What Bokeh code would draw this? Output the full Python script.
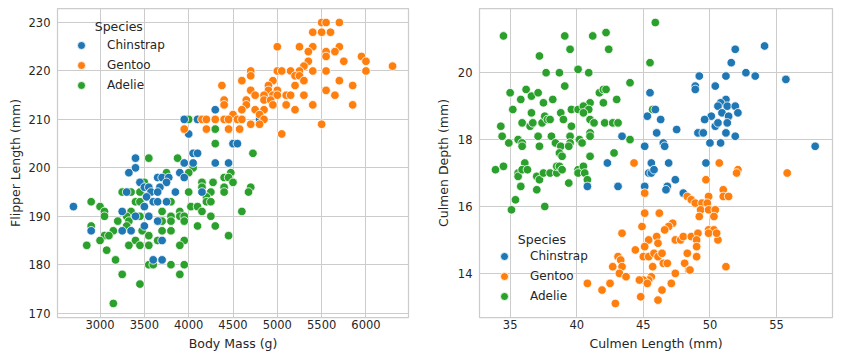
from bokeh.plotting import figure
from bokeh.layouts import row
from bokeh.models import Legend, LegendItem, Label, Range1d, FixedTicker
from bokeh.embed import file_html
from bokeh.resources import INLINE

FONT = "DejaVu Sans"
TXT = "#262626"
GRID = "#cccccc"
SPECIES = ["Chinstrap", "Gentoo", "Adelie"]
COLORS = ["#1f77b4", "#ff7f0e", "#2ca02c"]

# ---------------- Left panel: Body Mass (g) vs Flipper Length (mm) ----------------
chinstrap_mass = [4300, 3950, 4100, 4800, 4000, 4500, 4550, 4050, 4100, 3400, 4300, 4450, 3950, 4050,
                  3400, 3325, 3900, 3950, 3650, 3700, 3775, 3450, 3750, 3500, 3550, 3675, 3300, 3575,
                  3650, 3850, 4150, 3525, 3600, 3650, 3750, 3500, 2700, 3250, 3400, 3550, 3650, 3500,
                  2900, 3250, 3350, 3700, 3600, 3700]
chinstrap_flipper = [212, 210, 210, 210, 207, 205, 205, 203, 203, 202, 201, 201, 201, 201,
                     200, 199, 199, 198, 198, 198, 198, 197, 197, 196, 196, 196, 195, 195,
                     195, 195, 195, 194, 193, 193, 193, 192, 192, 191, 190, 190, 189, 188,
                     187, 187, 187, 185, 181, 181]

gentoo_mass = [5500, 5550, 5700, 5400, 5500, 5600, 5000, 5250, 5400, 5700, 5350, 5550, 5650,
               5550, 5950, 5350, 5750, 6000, 5300, 6300,
               4700, 5000, 5050, 5150, 5250, 5400, 5550, 6000, 4700, 5200, 5250,
               4600, 4950, 5300, 5700, 4375, 4900, 5200, 5850, 4700, 4900, 5000, 5550,
               4750, 4850, 4950, 5000, 5100, 5150, 5300, 5650, 4400, 4650, 4850, 4925,
               4400, 4650, 4950, 5100, 5400, 5850, 4600, 4750, 4850, 5200, 4500, 4800,
               4150, 4200, 4300, 4400, 4450, 4550, 4600, 4850, 4700, 4800, 5500,
               3950, 4200, 4450, 4575, 5050]
gentoo_flipper = [230, 230, 230, 228, 228, 228, 225, 225, 225, 225, 224, 224, 224,
                  223, 223, 222, 222, 222, 221, 221,
                  220, 220, 220, 220, 220, 220, 220, 220, 219, 219, 219,
                  218, 218, 218, 218, 217, 217, 217, 217, 216, 216, 216, 216,
                  215, 215, 215, 215, 215, 215, 215, 215, 214, 214, 214, 214,
                  213, 213, 213, 213, 213, 213, 212, 212, 212, 212, 211, 211,
                  210, 210, 210, 210, 210, 210, 210, 210, 209, 209, 209,
                  208, 208, 208, 208, 207]

adelie_mass = [4000, 4300, 4300, 4725, 3550, 3875, 4050, 3750, 4000, 4475, 4400, 4450, 3500, 4150,
               4275, 4500, 4700, 4150, 4400, 3250, 3350, 3450, 4000, 4250, 4400, 4675, 4200, 2900,
               3400, 3450, 3800, 4200, 4250, 3000, 4025, 4100, 3050, 3350, 3700, 3900, 4150, 4600,
               3050, 3300, 3450, 3800, 3900, 3950, 4250, 3200, 3325, 3700, 3800, 3950, 2900, 3300,
               4100, 4300, 3150, 3475, 3700, 3800, 3050, 3100, 3550, 4450, 3000, 3400, 3650, 3950,
               2850, 3325, 3450, 3550, 3900, 3075, 3175, 3550, 3600, 3800, 3950, 3250, 3900, 3450,
               3150]
adelie_flipper = [210, 208, 205, 203, 202, 202, 200, 199, 199, 199, 198, 198, 197, 197,
                  197, 197, 196, 196, 196, 195, 195, 195, 195, 195, 195, 195, 194, 193,
                  193, 193, 193, 193, 193, 192, 192, 192, 191, 191, 191, 191, 191, 191,
                  190, 190, 190, 190, 190, 190, 190, 189, 189, 189, 189, 189, 188, 188,
                  188, 188, 187, 187, 187, 187, 186, 186, 186, 186, 185, 185, 185, 185,
                  184, 184, 184, 184, 184, 183, 181, 180, 180, 180, 180, 178, 178, 176,
                  172]

mass_ticks = [3000, 3500, 4000, 4500, 5000, 5500, 6000]
flipper_ticks = [170, 180, 190, 200, 210, 220, 230]

# ---------------- Right panel: Culmen Length (mm) vs Culmen Depth (mm) ----------------
chinstrap_length = [54.1, 51.9, 51.6, 52.7, 53.4, 51.2, 49.2, 55.7, 48.9, 48.9, 50.4,
                    45.5, 51.2, 50.8, 50.6, 51.3, 51.9, 50.9, 52.1, 51.4, 50.1, 49.6, 45.3, 46.3,
                    45.9, 50.4, 50.6, 51.3, 47.5, 46.0, 49.1, 49.5, 51.2, 43.4, 51.9, 50.0, 50.8,
                    45.1, 46.5, 46.6, 57.9, 42.3, 45.6, 46.9, 49.7, 45.4, 45.6, 45.8, 47.4, 40.8,
                    43.1, 45.1, 46.8, 46.7, 48.0]
chinstrap_depth = [20.8, 20.7, 20.3, 20.0, 19.9, 19.9, 19.9, 19.8, 19.6, 19.5, 19.6,
                   19.4, 19.2, 19.1, 19.0, 19.0, 19.0, 18.8, 18.8, 18.7, 18.7, 18.6, 18.7, 18.6,
                   18.9, 18.4, 18.5, 18.5, 18.3, 18.2, 18.2, 18.2, 18.2, 18.1, 18.1, 17.9, 17.9,
                   17.8, 17.9, 17.8, 17.8, 17.3, 17.3, 17.3, 17.3, 17.0, 17.0, 17.1, 16.8, 16.6,
                   16.6, 16.6, 16.6, 16.5, 16.4]

gentoo_length = [44.3, 50.7, 52.1, 52.0, 55.8, 49.7, 45.1, 51.0, 51.0, 51.4, 49.9, 48.3, 48.6,
                 48.9, 49.4, 49.8, 49.3, 49.9, 50.4, 49.2, 50.3, 45.1, 46.2, 44.9, 47.2, 46.9,
                 46.6, 43.4, 45.4, 46.0, 46.1, 47.4, 47.8, 48.0, 48.6, 49.1, 49.0, 49.9, 50.3,
                 49.9, 50.6, 50.5, 49.0, 45.1, 44.4, 45.0, 45.4, 45.8, 46.1, 46.4, 46.5, 46.8,
                 48.3, 49.0, 51.2, 43.1, 43.3, 43.4, 42.7, 43.2, 43.7, 45.7, 45.6, 45.4, 45.0,
                 44.7, 45.3, 48.1, 48.4, 48.5, 47.4, 47.1, 46.4, 40.8, 42.5, 41.9, 44.8, 46.1,
                 42.9]
gentoo_depth = [17.3, 17.3, 17.1, 17.0, 17.0, 16.8, 16.4, 16.5, 16.3, 16.3, 16.3, 16.3, 16.2,
                16.1, 16.1, 16.1, 15.9, 15.9, 15.9, 15.7, 15.7, 15.8, 15.8, 15.4, 15.5, 15.4,
                15.3, 15.2, 15.0, 15.1, 14.9, 15.0, 15.0, 15.1, 15.1, 15.2, 15.0, 15.3, 15.3,
                15.2, 15.0, 15.2, 14.8, 14.8, 14.7, 14.5, 14.5, 14.6, 14.5, 14.6, 14.3, 14.3,
                14.6, 14.5, 14.2, 14.5, 14.4, 14.2, 14.2, 14.0, 13.9, 14.2, 13.9, 13.8, 13.8,
                13.8, 13.7, 14.3, 14.1, 14.1, 14.0, 13.7, 13.5, 13.7, 13.7, 13.5, 13.3, 13.2,
                13.1]

adelie_length = [34.5, 39.1, 41.2, 42.2, 42.4, 39.5, 37.2, 45.9, 45.5,
                 37.7, 38.7, 40.1, 40.9, 44.0, 39.1,
                 35.0, 36.2, 35.8, 36.6, 37.1, 37.5, 38.2, 41.7, 42.0, 42.2, 42.0, 43.0, 41.0,
                 35.2, 36.6, 39.6, 40.1, 40.5, 40.9, 40.5, 45.7,
                 34.3, 35.9, 36.5, 36.7, 37.4, 37.6, 37.8, 38.0, 38.8, 39.0, 39.6, 41.0, 41.3,
                 42.1, 42.7, 43.1, 41.0, 41.0,
                 34.4, 34.9, 35.6, 35.9, 35.9, 37.1, 37.2, 38.1, 38.4, 38.8, 38.7, 38.9, 39.5,
                 39.5, 39.4, 40.2, 40.4, 41.0, 42.8, 44.0,
                 33.9, 34.5, 35.6, 35.6, 36.1, 35.9, 36.3, 37.0, 37.2, 37.5, 38.0, 38.5, 38.5,
                 38.7, 38.9, 40.1, 40.1, 40.5, 40.6, 40.8, 39.4, 35.8, 37.0, 35.4, 35.1, 37.6]
adelie_depth = [21.1, 21.1, 21.1, 21.2, 20.7, 20.7, 20.5, 21.5, 20.3,
                20.0, 20.0, 20.1, 20.0, 19.7, 19.6,
                19.4, 19.5, 19.2, 19.3, 19.4, 19.1, 19.2, 19.4, 19.5, 19.5, 19.1, 19.2, 19.1,
                18.9, 18.8, 18.9, 18.9, 19.0, 18.9, 18.8, 18.9,
                18.4, 18.5, 18.4, 18.5, 18.5, 18.7, 18.6, 18.6, 18.8, 18.6, 18.4, 18.6, 18.5,
                18.5, 18.5, 18.5, 18.2, 18.1,
                18.1, 17.9, 18.0, 17.9, 17.8, 18.1, 17.8, 18.1, 17.9, 17.8, 17.6, 17.5, 18.1,
                17.9, 17.8, 18.0, 17.9, 17.5, 17.6, 18.0,
                17.1, 17.2, 17.0, 16.9, 17.3, 17.1, 17.1, 16.9, 16.8, 17.0, 17.0, 17.0, 17.2,
                17.2, 17.1, 17.1, 17.0, 17.2, 17.0, 16.8, 16.7, 16.6, 16.5, 16.2, 15.9, 16.0]

length_ticks = [35, 40, 45, 50, 55]
depth_ticks = [14, 16, 18, 20]


def style(p, xticks, yticks, y_label_standoff):
    p.outline_line_color = GRID
    p.outline_line_width = 1.25
    p.background_fill_color = "white"
    p.border_fill_color = "white"
    p.xaxis.ticker = FixedTicker(ticks=xticks)
    p.yaxis.ticker = FixedTicker(ticks=yticks)
    for ax in p.xaxis + p.yaxis:
        ax.axis_line_color = None
        ax.major_tick_line_color = None
        ax.minor_tick_line_color = None
        ax.major_tick_out = 0
        ax.major_tick_in = 0
        ax.minor_tick_out = 0
        ax.minor_tick_in = 0
        ax.major_label_text_font = FONT
        ax.major_label_text_font_size = "11.5px"
        ax.major_label_text_color = TXT
        ax.axis_label_text_font = FONT
        ax.axis_label_text_font_size = "12.5px"
        ax.axis_label_text_font_style = "normal"
        ax.axis_label_text_color = TXT
    p.xaxis.major_label_standoff = 2
    p.xaxis.axis_label_standoff = 4
    p.yaxis.major_label_standoff = 7
    p.yaxis.axis_label_standoff = y_label_standoff
    p.grid.grid_line_color = GRID
    p.grid.grid_line_width = 1


def panel(width, mbl, mbr, xr, yr, xlab, ylab, xs, ys, xticks, yticks, ylstd,
          leg_loc, title_xy):
    p = figure(width=width, height=361, output_backend="svg", toolbar_location=None,
               x_range=Range1d(*xr), y_range=Range1d(*yr),
               min_border_left=mbl, min_border_right=mbr,
               min_border_top=8, min_border_bottom=44,
               x_axis_label=xlab, y_axis_label=ylab)
    style(p, xticks, yticks, ylstd)
    rends = {}
    for name in ["Adelie", "Chinstrap", "Gentoo"]:
        i = SPECIES.index(name)
        rends[name] = p.scatter(xs[i], ys[i], size=8.6, marker="circle",
                                fill_color=COLORS[i], line_color="white", line_width=0.8)
    legend = Legend(items=[LegendItem(label=s, renderers=[rends[s]]) for s in SPECIES],
                    location=leg_loc, border_line_color=None, background_fill_alpha=0,
                    padding=5, spacing=0, margin=0, label_height=20, glyph_height=20,
                    glyph_width=20, label_standoff=16,
                    label_text_font=FONT, label_text_font_size="12px",
                    label_text_color=TXT)
    p.add_layout(legend, "center")
    p.add_layout(Label(x=title_xy[0], y=title_xy[1], text="Species", text_font=FONT,
                       text_font_size="12.5px", text_color=TXT, text_align="left",
                       text_baseline="middle"))
    return p


p1 = panel(430, 57, 22, (2520, 6480), (169.1, 232.9), "Body Mass (g)", "Flipper Length (mm)",
           [chinstrap_mass, gentoo_mass, adelie_mass],
           [chinstrap_flipper, gentoo_flipper, adelie_flipper],
           mass_ticks, flipper_ticks, 3, (14, 222), (2940, 229.1))
p2 = panel(410, 49, 8, (32.7, 59.2), (12.68, 21.92), "Culmen Length (mm)", "Culmen Depth (mm)",
           [chinstrap_length, gentoo_length, adelie_length],
           [chinstrap_depth, gentoo_depth, adelie_depth],
           length_ticks, depth_ticks, 4, (15, 11), (35.58, 15.02))

layout = row(p1, p2)
open("out.html", "w").write(file_html(layout, INLINE))
